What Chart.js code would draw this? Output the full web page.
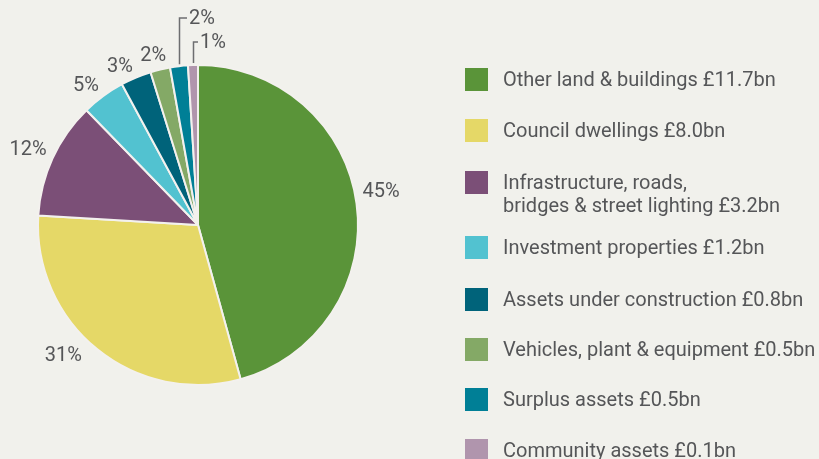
<!DOCTYPE html>
<html><head><meta charset="utf-8">
<script src="https://cdn.jsdelivr.net/npm/chart.js@4"></script>
<style>
html,body{margin:0;padding:0;background:#f1f1ec;}
#wrap{position:relative;width:819px;height:459px;overflow:hidden;}
#c{position:absolute;left:0;top:0;}
.lg{position:absolute;left:465px;font-family:Roboto,"Liberation Sans",sans-serif;font-size:20px;color:#555658;line-height:23px;white-space:nowrap;}
.lg .sw{position:absolute;left:0;top:0;width:23px;height:23px;}
.lg .tx{position:absolute;left:38px;top:0;}
</style></head>
<body><div id="wrap"><canvas id="c" width="819" height="459"></canvas><div id="legend"></div></div>
<script>
const categories = ["Other land & buildings £11.7bn","Council dwellings £8.0bn",["Infrastructure, roads,","bridges & street lighting £3.2bn"],"Investment properties £1.2bn","Assets under construction £0.8bn","Vehicles, plant & equipment £0.5bn","Surplus assets £0.5bn","Community assets £0.1bn"];
const shares = [45.8, 30.3, 11.8, 4.4, 3.1, 2.0, 1.8, 1.0];
const pctLabels = ["45%","31%","12%","5%","3%","2%","2%","1%"];
const colors = ["#5a9439","#e5d867","#7b4f77","#52c2d0","#00637a","#84a966","#007f96","#b095ad"];
const legendTops = [68,119,171,236,288,338,388,439];

const lg = document.getElementById('legend');
categories.forEach((c,i)=>{
  const d=document.createElement('div');d.className='lg';d.style.top=legendTops[i]+'px';
  const lines = Array.isArray(c)?c:[c];
  d.innerHTML='<div class="sw" style="background:'+colors[i]+'"></div><div class="tx">'+lines.join('<br>')+'</div>';
  lg.appendChild(d);
});

const angleNudge = [-3.5, 7.5, 0, -2, -3, -1, 0, 0];
const labelPlugin = {
  id:'pctLabels',
  afterDatasetsDraw(chart){
    const ctx=chart.ctx; const meta=chart.getDatasetMeta(0);
    ctx.save();
    ctx.font='20px Roboto, "Liberation Sans", sans-serif';
    ctx.fillStyle='#555658'; ctx.strokeStyle='#6d6e70'; ctx.lineWidth=1.5;
    meta.data.forEach((arc,i)=>{
      const p=arc.getProps(['x','y','startAngle','endAngle','outerRadius'],true);
      const mid=(p.startAngle+p.endAngle)/2;
      if(i>=6){
        const ex=p.x+p.outerRadius*Math.cos(mid);
        const ey=p.y+p.outerRadius*Math.sin(mid)-2;
        const topY = i===6 ? p.y-p.outerRadius-47 : p.y-p.outerRadius-23;
        const tick = i===6 ? 8 : 5;
        ctx.beginPath();ctx.moveTo(Math.round(ex)+0.5,ey);ctx.lineTo(Math.round(ex)+0.5,topY);ctx.lineTo(Math.round(ex)+tick,topY);ctx.stroke();
        ctx.textAlign='left';ctx.textBaseline='middle';
        ctx.fillText(pctLabels[i],Math.round(ex)+tick+2,topY+1);
      } else {
        const a = mid + angleNudge[i]*Math.PI/180;
        const hw = ctx.measureText(pctLabels[i]).width/2, hh=7.5;
        const dx=Math.cos(a), dy=Math.sin(a);
        const ext = hw*Math.abs(dx)+hh*Math.abs(dy);
        const rr=p.outerRadius+7+ext;
        ctx.textAlign='center';ctx.textBaseline='middle';
        ctx.fillText(pctLabels[i],p.x+rr*dx,p.y+rr*dy+3);
      }
    });
    ctx.restore();
  }
};

new Chart(document.getElementById('c'),{
  type:'pie',
  data:{labels:categories.map(c=>Array.isArray(c)?c.join(' '):c),datasets:[{data:shares,backgroundColor:colors,borderColor:'#f3f1ee',borderWidth:2}]},
  options:{responsive:false,animation:false,
    layout:{padding:{left:37,top:64,right:460,bottom:73}},
    plugins:{legend:{display:false},tooltip:{enabled:false}}},
  plugins:[labelPlugin]
});
</script></body></html>
